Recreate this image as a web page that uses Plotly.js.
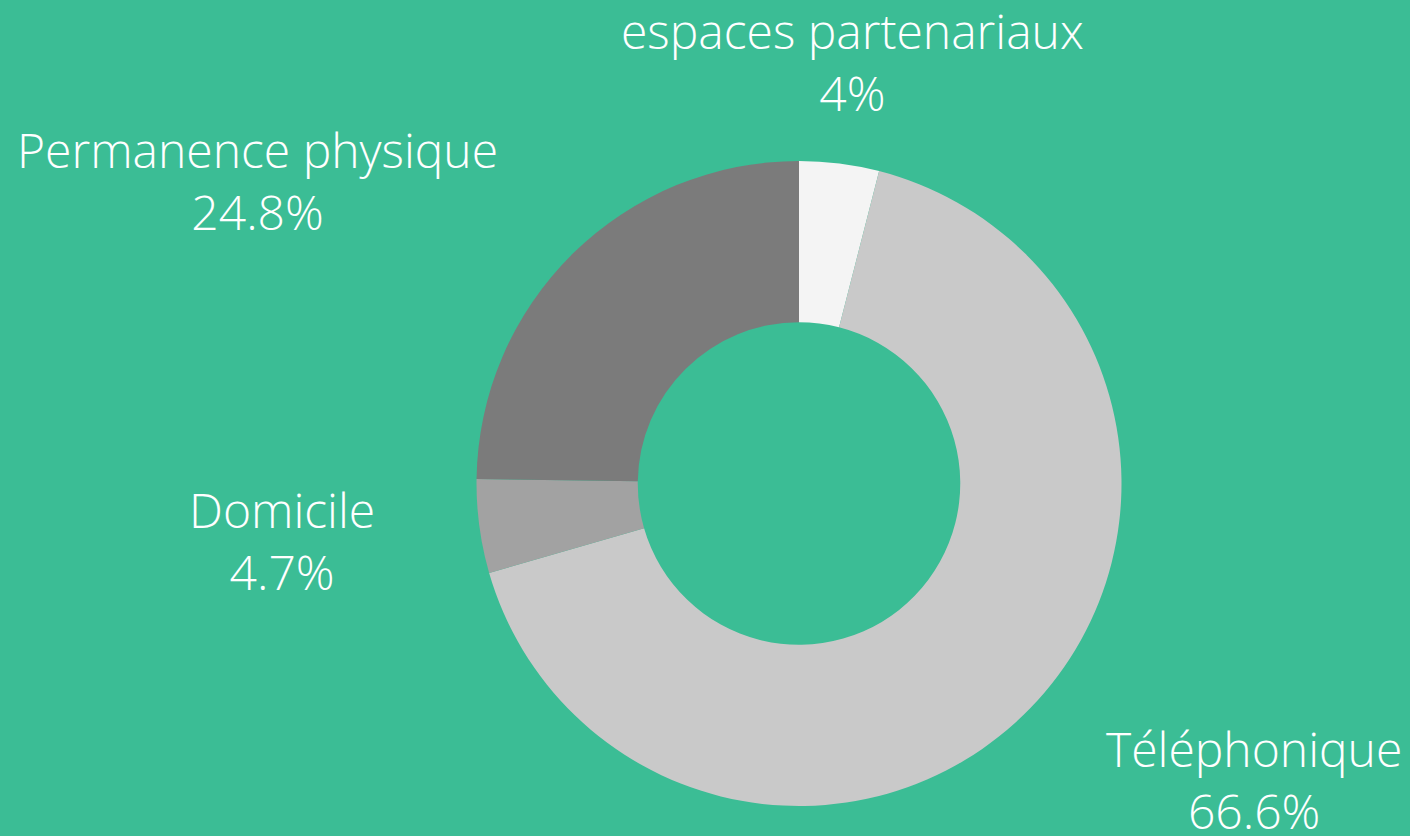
<!DOCTYPE html>
<html>
<head>
<meta charset="utf-8">
<script src="https://cdn.plot.ly/plotly-3.0.1.min.js"></script>
<style>html,body{margin:0;padding:0;background:#3bbd95;}#chart{width:1410px;height:836px;}</style>
</head>
<body>
<div id="chart"></div>
<script>
var labels = ["espaces partenariaux", "Téléphonique", "Domicile", "Permanence physique"];
var values = [4, 66.6, 4.7, 24.8];
var colors = ["#f4f4f4", "#c9c9c9", "#a2a2a2", "#7b7b7b"];

var W = 1410, H = 836;
var margin = {l: 188, r: 0, t: 161, b: 30};
var pieRadius = Math.min(W - margin.l - margin.r, H - margin.t - margin.b) / 2;
var labelRadius = pieRadius * 1.32;

var trace = {
  type: "pie",
  labels: labels,
  values: values,
  hole: 0.5,
  sort: false,
  direction: "clockwise",
  rotation: 0,
  marker: {colors: colors, line: {width: 0}},
  textinfo: "none",
  hoverinfo: "label+percent",
  showlegend: false
};

// label positions derived from each slice's mid-angle
var total = values.reduce(function (a, b) { return a + b; }, 0);
var annotations = [];
var cum = 0;
for (var i = 0; i < values.length; i++) {
  var mid = (cum + values[i] / 2) / total;
  cum += values[i];
  var th = 2 * Math.PI * mid;
  var s = Math.sin(th), c = Math.cos(th);
  var xanchor = Math.abs(s) < 0.3 ? "center" : (s > 0 ? "left" : "right");
  annotations.push({
    xref: "paper", yref: "paper", x: 0.5, y: 0.5,
    xshift: labelRadius * s, yshift: labelRadius * c,
    xanchor: xanchor, yanchor: "middle", align: "center",
    showarrow: false,
    text: labels[i] + "<br>" + values[i] + "%",
    font: {family: "Open Sans", size: 48, color: "#ffffff", weight: 300}
  });
}

var layout = {
  width: W,
  height: H,
  paper_bgcolor: "#3bbd95",
  plot_bgcolor: "#3bbd95",
  margin: margin,
  showlegend: false,
  annotations: annotations
};

Plotly.newPlot("chart", [trace], layout, {displayModeBar: false, staticPlot: true});
</script>
</body>
</html>
